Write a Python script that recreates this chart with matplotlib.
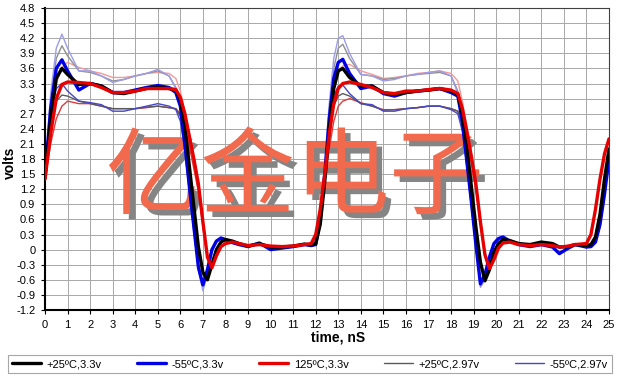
import numpy as np
import matplotlib
matplotlib.use('Agg')
import matplotlib.pyplot as plt
import matplotlib.patheffects as pe

plt.rcParams['font.family'] = ['Liberation Sans', 'DejaVu Sans']

# time axis, nS
t = [0, 0.25, 0.5, 0.75, 1.0,
     1.5, 2.0, 2.5, 3.0, 3.5, 4.0, 4.5, 5.0, 5.5, 5.8,
     6.0, 6.2, 6.4, 6.6, 6.8, 7.0, 7.2, 7.4, 7.6, 7.8,
     8.0, 8.3, 8.6, 9.0, 9.5, 10.0, 10.5, 11.0, 11.5, 11.8,
     12.0, 12.2, 12.4, 12.6, 12.8, 13.0, 13.2, 13.5, 14.0, 14.5,
     15.0, 15.5, 16.0, 16.5, 17.0, 17.5, 18.0, 18.3, 18.5, 18.7,
     18.9, 19.1, 19.3, 19.5, 19.7, 19.9, 20.1, 20.3, 20.6, 21.0,
     21.5, 22.0, 22.5, 22.8, 23.2, 23.5, 24.0, 24.2, 24.4, 24.6, 24.8, 25.0]

# thick traces, 3.3v
v_25_33 = [1.42, 2.6, 3.4, 3.6, 3.48,
           3.28, 3.3, 3.25, 3.12, 3.1, 3.15, 3.2, 3.22, 3.2, 3.16,
           2.98, 2.45, 1.65, 0.85, 0.05, -0.45, -0.6, -0.3, 0.0, 0.15,
           0.2, 0.17, 0.12, 0.07, 0.12, 0.05, 0.05, 0.07, 0.11, 0.09,
           0.12, 0.5, 1.35, 2.4, 3.2, 3.55, 3.6, 3.42, 3.25, 3.25,
           3.12, 3.08, 3.12, 3.15, 3.17, 3.2, 3.15, 3.08, 2.7, 2.05,
           1.25, 0.45, -0.25, -0.62, -0.4, -0.05, 0.12, 0.2, 0.18, 0.12,
           0.1, 0.15, 0.12, 0.05, 0.06, 0.1, 0.08, 0.1, 0.25, 0.7, 1.4, 2.0]
v_m55_33 = [1.45, 2.8, 3.6, 3.77, 3.55,
            3.17, 3.3, 3.25, 3.12, 3.12, 3.17, 3.22, 3.26, 3.22, 3.12,
            2.85, 2.1, 1.25, 0.45, -0.35, -0.7, -0.4, 0.0, 0.17, 0.23,
            0.2, 0.14, 0.1, 0.06, 0.13, 0.0, 0.03, 0.06, 0.1, 0.08,
            0.1, 0.6, 1.5, 2.6, 3.4, 3.72, 3.78, 3.5, 3.2, 3.25,
            3.1, 3.05, 3.12, 3.15, 3.17, 3.2, 3.12, 3.05, 2.55, 1.75,
            0.95, 0.1, -0.68, -0.5, -0.15, 0.12, 0.22, 0.25, 0.17, 0.1,
            0.06, 0.1, 0.05, -0.08, 0.03, 0.1, 0.05, 0.06, 0.15, 0.5, 1.1, 1.8]
v_125_33 = [1.4, 2.3, 3.0, 3.28, 3.33,
            3.32, 3.3, 3.22, 3.12, 3.12, 3.15, 3.2, 3.2, 3.2, 3.18,
            3.02, 2.7, 2.25, 1.8, 1.3, 0.55, -0.15, -0.36, -0.12, 0.06,
            0.12, 0.15, 0.12, 0.08, 0.1, 0.07, 0.06, 0.07, 0.1, 0.12,
            0.3, 0.8, 1.5, 2.3, 2.9, 3.2, 3.3, 3.33, 3.28, 3.22,
            3.12, 3.1, 3.15, 3.15, 3.18, 3.2, 3.17, 3.1, 2.8, 2.35,
            1.85, 1.3, 0.55, -0.1, -0.38, -0.2, 0.03, 0.13, 0.15, 0.1,
            0.08, 0.1, 0.08, 0.05, 0.07, 0.1, 0.12, 0.3, 0.8, 1.4, 1.9, 2.2]

# thin traces, 2.97v
v_25_297 = [1.42, 2.4, 2.95, 3.07, 3.05,
            2.95, 2.9, 2.85, 2.8, 2.8, 2.8, 2.83, 2.85, 2.82, 2.8,
            2.65, 2.2, 1.5, 0.75, 0.0, -0.45, -0.55, -0.25, 0.02, 0.15,
            0.18, 0.16, 0.12, 0.07, 0.12, 0.05, 0.05, 0.07, 0.11, 0.09,
            0.12, 0.5, 1.3, 2.2, 2.85, 3.05, 3.1, 3.05, 2.9, 2.85,
            2.77, 2.78, 2.8, 2.82, 2.85, 2.85, 2.8, 2.75, 2.45, 1.9,
            1.15, 0.4, -0.25, -0.55, -0.35, -0.05, 0.12, 0.18, 0.17, 0.12,
            0.1, 0.14, 0.12, 0.05, 0.06, 0.1, 0.08, 0.1, 0.25, 0.65, 1.3, 1.9]
v_m55_297 = [1.45, 2.7, 3.2, 3.3, 3.15,
             2.95, 2.92, 2.88, 2.75, 2.75, 2.8, 2.85, 2.9, 2.85, 2.78,
             2.55, 1.95, 1.15, 0.35, -0.4, -0.72, -0.42, -0.02, 0.17, 0.23,
             0.2, 0.14, 0.1, 0.06, 0.13, 0.0, 0.03, 0.06, 0.1, 0.08,
             0.1, 0.6, 1.45, 2.4, 3.05, 3.25, 3.27, 3.1, 2.9, 2.88,
             2.75, 2.75, 2.8, 2.82, 2.85, 2.85, 2.78, 2.7, 2.35, 1.65,
             0.85, 0.05, -0.7, -0.52, -0.15, 0.12, 0.22, 0.25, 0.17, 0.1,
             0.06, 0.1, 0.05, -0.06, 0.03, 0.1, 0.05, 0.06, 0.15, 0.45, 1.05, 1.75]
v_125_297 = [1.4, 2.1, 2.6, 2.85, 2.95,
             2.9, 2.9, 2.85, 2.8, 2.8, 2.8, 2.82, 2.85, 2.82, 2.8,
             2.7, 2.45, 2.05, 1.6, 1.15, 0.45, -0.15, -0.35, -0.12, 0.06,
             0.12, 0.15, 0.12, 0.08, 0.1, 0.07, 0.06, 0.07, 0.1, 0.12,
             0.3, 0.75, 1.35, 2.0, 2.55, 2.85, 2.95, 3.0, 2.92, 2.85,
             2.78, 2.78, 2.8, 2.82, 2.85, 2.85, 2.8, 2.75, 2.55, 2.15,
             1.7, 1.2, 0.5, -0.1, -0.38, -0.2, 0.03, 0.13, 0.15, 0.1,
             0.08, 0.1, 0.08, 0.05, 0.07, 0.1, 0.12, 0.3, 0.8, 1.4, 1.9, 2.2]

# thin traces, upper supply (not in legend)
v_m55_hi = [1.45, 3.1, 4.0, 4.28, 4.0,
            3.55, 3.55, 3.45, 3.32, 3.38, 3.45, 3.5, 3.58, 3.45, 3.2,
            2.8, 2.05, 1.2, 0.4, -0.42, -0.82, -0.5, -0.05, 0.17, 0.24,
            0.2, 0.14, 0.1, 0.06, 0.13, 0.0, 0.03, 0.06, 0.11, 0.08,
            0.1, 0.7, 1.7, 2.9, 3.8, 4.2, 4.25, 3.9, 3.48, 3.45,
            3.35, 3.38, 3.45, 3.48, 3.52, 3.55, 3.45, 3.1, 2.5, 1.7,
            0.9, 0.05, -0.75, -0.6, -0.2, 0.1, 0.22, 0.26, 0.17, 0.1,
            0.06, 0.1, 0.05, -0.06, 0.03, 0.1, 0.05, 0.06, 0.15, 0.5, 1.1, 1.8]
v_25_hi = [1.42, 2.9, 3.8, 4.05, 3.85,
           3.55, 3.52, 3.45, 3.35, 3.38, 3.45, 3.5, 3.55, 3.45, 3.22,
           2.85, 2.3, 1.5, 0.7, -0.05, -0.5, -0.6, -0.28, 0.02, 0.15,
           0.2, 0.17, 0.12, 0.07, 0.12, 0.05, 0.05, 0.07, 0.11, 0.09,
           0.12, 0.55, 1.5, 2.7, 3.6, 4.0, 4.08, 3.8, 3.48, 3.45,
           3.38, 3.4, 3.45, 3.48, 3.5, 3.52, 3.45, 3.15, 2.65, 2.0,
           1.2, 0.4, -0.3, -0.62, -0.4, -0.05, 0.12, 0.2, 0.18, 0.12,
           0.1, 0.15, 0.12, 0.05, 0.06, 0.1, 0.08, 0.1, 0.25, 0.7, 1.4, 2.0]
v_125_hi = [1.4, 2.5, 3.3, 3.62, 3.72,
            3.62, 3.55, 3.5, 3.42, 3.42, 3.45, 3.5, 3.52, 3.5, 3.4,
            3.15, 2.75, 2.3, 1.85, 1.35, 0.6, -0.12, -0.35, -0.12, 0.06,
            0.12, 0.15, 0.12, 0.08, 0.1, 0.07, 0.06, 0.07, 0.1, 0.12,
            0.3, 0.8, 1.55, 2.5, 3.2, 3.55, 3.65, 3.68, 3.55, 3.48,
            3.4, 3.42, 3.45, 3.5, 3.52, 3.55, 3.5, 3.35, 2.95, 2.45,
            1.9, 1.35, 0.6, -0.08, -0.36, -0.2, 0.03, 0.13, 0.15, 0.1,
            0.08, 0.1, 0.08, 0.05, 0.07, 0.1, 0.12, 0.3, 0.8, 1.4, 1.9, 2.2]

yticks = np.round(np.arange(-1.2, 4.81, 0.3), 1)
ytick_labels = ['%g' % v for v in yticks]

fig = plt.figure(figsize=(6.22, 3.78), dpi=100)
ax = fig.add_axes([45/622, 1 - 310/378, (609 - 45)/622, (310 - 8)/378])

kw = dict(solid_joinstyle='round', solid_capstyle='round')
ax.plot(t, v_125_hi, color='#f29a9a', lw=1.0, zorder=3, **kw)
ax.plot(t, v_25_hi, color='#909090', lw=1.0, zorder=3, **kw)
ax.plot(t, v_m55_hi, color='#9c9cec', lw=1.0, zorder=3, **kw)
ax.plot(t, v_125_297, color='#e03a3a', lw=1.0, zorder=3, **kw)
ax.plot(t, v_25_297, color='#5a5a5a', lw=1.0, zorder=3, label='+25ºC,2.97v', **kw)
ax.plot(t, v_m55_297, color='#4646c8', lw=1.0, zorder=3, label='-55ºC,2.97v', **kw)
ax.plot(t, v_m55_33, color='#0000e6', lw=2.4, zorder=4, label='-55ºC,3.3v', **kw)
ax.plot(t, v_25_33, color='black', lw=2.4, zorder=4, label='+25ºC,3.3v', **kw)
ax.plot(t, v_125_33, color='#e60000', lw=2.4, zorder=4, label='125ºC,3.3v', **kw)

ax.set_xlim(0, 25)
ax.set_ylim(-1.2, 4.8)
ax.set_xticks(range(0, 26))
ax.set_yticks(yticks)
ax.set_yticklabels(ytick_labels)
ax.tick_params(labelsize=8, length=3, width=0.8, pad=4)
ax.grid(True, color='#a8a8a8', lw=0.7)
ax.set_axisbelow(True)
for s in ['left', 'bottom']:
    ax.spines[s].set_linewidth(1.5)
for s in ['top', 'right']:
    ax.spines[s].set_linewidth(0.8)
    ax.spines[s].set_color('#404040')

# watermark
ax.text(11.08, 1.39, '亿金电子', family=['Noto Sans CJK SC'], fontsize=68,
        fontweight='normal', color='#f26a4e', ha='center', va='center', zorder=2,
        path_effects=[pe.SimplePatchShadow(offset=(4, -4), shadow_rgbFace='#858585', alpha=1.0),
                      pe.Normal()])

fig.text(10/622, 1 - 163/378, 'volts', rotation=90, fontsize=10, fontweight='bold',
         ha='center', va='center')
fig.text(338/622, 1 - 338/378, 'time, nS', fontsize=10, fontweight='bold',
         ha='center', va='center')

h, l = ax.get_legend_handles_labels()
order = [3, 2, 4, 0, 1]
leg = fig.legend([h[i] for i in order], [l[i] for i in order], ncol=5,
                 loc='lower left', bbox_to_anchor=(8/622, 1 - 373/378, 604/622, 20/378),
                 mode='expand', fontsize=8, frameon=True, fancybox=False,
                 handlelength=2.6, handletextpad=0.5, borderpad=0.35, borderaxespad=0)
leg.get_frame().set_edgecolor('#909090')
leg.get_frame().set_linewidth(0.8)

fig.savefig('out.png', dpi=100)
